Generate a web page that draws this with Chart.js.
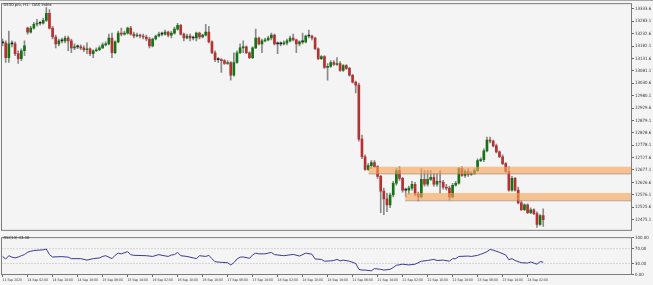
<!DOCTYPE html>
<html>
<head>
<meta charset="utf-8">
<script src="https://cdn.jsdelivr.net/npm/chart.js@4.4.1/dist/chart.umd.min.js"></script>
<style>
html, body { margin: 0; padding: 0; background: #f4f4f4; }
#wrap { position: relative; width: 653px; height: 285px; overflow: hidden; }
#price { position: absolute; left: 0; top: 0; }
#rsi { position: absolute; left: 0; top: 234px; }
</style>
</head>
<body>
<div id="wrap">
  <canvas id="price" width="653" height="234"></canvas>
  <canvas id="rsi" width="653" height="51"></canvas>
</div>
<script>
// DE30 H1 candles, 11 Sep 14:00 .. 24 Sep 07:00 (one entry per bar)
const open = [
  13195,13195,13135,13191,13191,13151,13131,13163,
  13255,13239,13255,13271,13275,13275,13287,13315,
  13255,13219,13191,13203,13203,13215,13203,13175,
  13179,13179,13175,13167,13171,13151,13163,13167,
  13175,13187,13191,13215,13155,13199,13235,13231,
  13235,13255,13231,13223,13227,13223,13219,13211,
  13183,13211,13223,13231,13231,13239,13227,13235,
  13251,13267,13231,13215,13223,13215,13215,13235,
  13219,13227,13239,13199,13155,13127,13127,13123,
  13111,13115,13063,13115,13155,13175,13179,13155,
  13135,13175,13215,13191,13203,13207,13215,13227,
  13191,13191,13191,13195,13203,13215,13207,13191,
  13199,13199,13223,13223,13215,13171,13131,13139,
  13095,13099,13115,13107,13111,13083,13103,13091,
  13063,13035,13023,12803,12731,12679,12695,12707,
  12691,12651,12591,12559,12535,12575,12623,12675,
  12643,12595,12595,12603,12619,12579,12567,12639,
  12619,12639,12647,12619,12631,12627,12607,12603,
  12567,12615,12623,12683,12655,12671,12659,12663,
  12675,12715,12719,12755,12799,12795,12775,12751,
  12731,12703,12671,12595,12643,12595,12543,12515,
  12535,12503,12515,12499,12455,12491
];
const high = [
  13211,13203,13243,13203,13199,13163,13171,13203,
  13259,13263,13279,13291,13283,13295,13339,13331,
  13263,13227,13211,13215,13223,13223,13211,13191,
  13187,13187,13183,13195,13175,13167,13175,13183,
  13195,13199,13231,13235,13203,13243,13255,13243,
  13259,13263,13239,13235,13231,13231,13227,13219,
  13215,13227,13239,13239,13247,13243,13243,13259,
  13275,13271,13235,13231,13231,13223,13239,13239,
  13231,13271,13263,13203,13163,13135,13131,13127,
  13123,13119,13155,13163,13191,13203,13183,13159,
  13179,13251,13219,13211,13215,13223,13235,13231,
  13199,13199,13203,13211,13223,13231,13211,13203,
  13235,13227,13247,13227,13219,13175,13143,13143,
  13111,13123,13123,13135,13119,13107,13107,13095,
  13067,13039,13031,12819,12739,12703,12715,12715,
  12695,12655,12603,12583,12583,12631,12683,12691,
  12647,12603,12611,12631,12627,12587,12683,12675,
  12675,12675,12663,12663,12675,12635,12619,12611,
  12623,12631,12687,12691,12679,12683,12671,12683,
  12723,12727,12763,12811,12811,12799,12783,12755,
  12739,12707,12691,12651,12647,12607,12551,12539,
  12539,12523,12519,12507,12495,12519
];
const low = [
  13183,13115,13115,13179,13143,13111,13123,13143,
  13231,13235,13251,13263,13267,13271,13283,13251,
  13211,13175,13183,13195,13195,13163,13155,13167,
  13171,13167,13159,13151,13143,13135,13159,13163,
  13171,13183,13187,13135,13151,13195,13223,13227,
  13231,13227,13215,13219,13215,13211,13203,13175,
  13179,13207,13219,13223,13227,13219,13215,13231,
  13247,13227,13203,13211,13203,13207,13203,13211,
  13215,13223,13195,13151,13119,13115,13075,13107,
  13107,13043,13059,13111,13151,13155,13151,13131,
  13131,13171,13187,13155,13199,13203,13207,13187,
  13151,13183,13187,13187,13199,13203,13155,13183,
  13191,13195,13215,13207,13167,13127,13127,13091,
  13043,13095,13103,13103,13079,13079,13087,13059,
  13031,12991,12795,12723,12675,12675,12683,12687,
  12643,12503,12495,12507,12523,12567,12615,12635,
  12587,12567,12579,12595,12571,12551,12563,12611,
  12611,12635,12611,12611,12583,12599,12595,12555,
  12563,12611,12619,12651,12647,12651,12655,12659,
  12671,12711,12711,12751,12787,12771,12747,12727,
  12699,12667,12591,12591,12591,12539,12511,12511,
  12499,12499,12495,12443,12451,12447
];
const close = [
  13195,13135,13191,13191,13151,13131,13163,13183,
  13239,13255,13271,13275,13275,13287,13315,13255,
  13219,13191,13203,13203,13215,13203,13175,13179,
  13179,13175,13167,13171,13151,13163,13167,13175,
  13187,13191,13215,13155,13199,13235,13231,13235,
  13255,13231,13223,13227,13223,13219,13211,13183,
  13211,13223,13231,13231,13239,13227,13235,13251,
  13267,13231,13215,13223,13215,13215,13235,13219,
  13227,13239,13199,13155,13127,13127,13123,13111,
  13115,13063,13115,13155,13175,13179,13155,13135,
  13175,13215,13191,13203,13207,13215,13227,13191,
  13191,13191,13195,13203,13215,13207,13191,13199,
  13199,13223,13223,13215,13171,13131,13139,13095,
  13099,13115,13107,13111,13083,13103,13091,13063,
  13035,13023,12803,12731,12679,12695,12707,12691,
  12651,12591,12559,12535,12575,12623,12675,12643,
  12595,12595,12603,12619,12579,12567,12639,12619,
  12639,12647,12619,12631,12627,12607,12603,12567,
  12615,12623,12683,12655,12671,12659,12663,12675,
  12715,12719,12755,12799,12795,12775,12751,12731,
  12703,12671,12595,12643,12595,12543,12515,12535,
  12503,12515,12499,12455,12491,12475
];

// RSI(14): bar index -> value
const rsiIdx = [0,1,2,3,4,5,6,7,8,9,10,13,14,15,16,19,21,22,25,27,29,31,32,33,35,36,37,38,40,41,42,46,48,50,51,53,54,55,56,57,59,61,62,63,65,66,67,68,70,72,73,74,75,76,77,79,80,81,82,84,86,87,90,93,95,97,99,100,102,103,105,106,107,108,109,111,113,114,115,116,118,119,121,122,124,125,126,128,130,132,134,136,138,139,141,143,144,145,146,149,150,152,153,154,155,156,157,159,161,162,163,164,166,168,169,171,172,173];
const rsiVal = [49,42,51,47,45,47.5,51,54,60.5,63,65,67,69,54,47.5,48.5,47,43,43,39,43,45,49,51,43,52,58,56,62,54,52,51,49,54,52,49,53,54,60,51,49,45,43,51,49,52,43,34.5,33,32,26,32,42,47,47.5,44,53,58,56,56,60,54,51,54.5,50,58,55,42,41,36,37,38,41,37,39,36,30,14,12,12,10,16,14,12,14,19,25,28,26,28,36,38,41,38,39,36,43,43,49,50,49,52,55,58,62,68,66,60,53,40,43,38,32,31,34,28,35,33.4];
const rsiLevels = [70, 30];
const rsiTicks = [100, 70, 30, 0];

// supply / demand zones (start bar, top, bottom)
const zoneFrom = [117.1, 128.8];
const zoneTop = [12690, 12583];
const zoneBottom = [12661, 12552];

const priceTicks = [13333.6, 13283.1, 13232.6, 13182.1, 13131.6, 13081.1, 13030.6, 12980.1, 12929.6,
  12879.1, 12828.6, 12778.1, 12727.6, 12677.1, 12626.6, 12576.1, 12525.6, 12475.1];
const xTickIdx = [0,8,16,24,32,40,48,56,64,72,80,88,96,104,112,120,128,136,144,152,160,168];
const xLabels = ['11 Sep 2020','14 Sep 02:00','14 Sep 10:00','14 Sep 18:00','15 Sep 06:00','15 Sep 14:00',
  '16 Sep 02:00','16 Sep 10:00','16 Sep 18:00','17 Sep 06:00','17 Sep 14:00','18 Sep 02:00','18 Sep 10:00',
  '18 Sep 18:00','21 Sep 06:00','21 Sep 14:00','22 Sep 02:00','22 Sep 10:00','22 Sep 18:00','23 Sep 06:00',
  '23 Sep 14:00','24 Sep 02:00'];

const xMin = -0.35, xMax = 201.25;
const yMin = 12431, yMax = 13355;

const tinyFamily = '"Liberation Sans Narrow", "DejaVu Sans Condensed", "Liberation Sans", sans-serif';
const smallFont = { family: tinyFamily, size: 4.4 };
const dateFont = { family: tinyFamily, size: 3.4 };
const idx = close.map((c, i) => i);
const bodyColor = idx.map(i => close[i] > open[i] ? '#137413' : (close[i] < open[i] ? '#b83030' : '#222222'));

// frame around each pane, like the terminal draws it
const framePlugin = {
    id: 'frame',
    afterDraw(chart) {
        const a = chart.chartArea, ctx = chart.ctx;
        ctx.save();
        ctx.strokeStyle = '#7c7c7c';
        ctx.lineWidth = 1;
        ctx.strokeRect(a.left, a.top, a.right - a.left, a.bottom - a.top);
        ctx.restore();
    }
};

function captionPlugin(text, y, topLine) {
    return {
        id: 'caption',
        afterDraw(chart) {
            const ctx = chart.ctx;
            ctx.save();
            if (topLine) {
                ctx.fillStyle = '#a8a8a8';
                ctx.fillRect(0, 0, chart.width, 1);
            }
            ctx.font = '4.2px ' + tinyFamily;
            ctx.fillStyle = '#222';
            ctx.textBaseline = 'middle';
            ctx.fillText(text, 3.5, y);
            ctx.restore();
        }
    };
}

const zoneSets = [];
zoneFrom.forEach((from, z) => {
    zoneSets.push({
        type: 'line',
        data: [{ x: from, y: zoneTop[z] }, { x: xMax, y: zoneTop[z] }],
        borderWidth: 0, pointRadius: 0, fill: false, order: 0
    });
    zoneSets.push({
        type: 'line',
        data: [{ x: from, y: zoneBottom[z] }, { x: xMax, y: zoneBottom[z] }],
        borderColor: 'rgba(120,120,120,0.35)', borderWidth: 1.5,
        backgroundColor: 'rgba(248,163,86,0.62)', fill: '-1',
        pointRadius: 0, order: 0
    });
});

new Chart(document.getElementById('price'), {
    type: 'bar',
    data: {
        datasets: zoneSets.concat([
            {
                type: 'bar',
                data: idx.map(i => ({ x: i, y: [low[i], high[i]] })),
                backgroundColor: '#8a8a8a',
                barThickness: 1, grouped: false, order: 3
            },
            {
                type: 'bar',
                data: idx.map(i => ({ x: i, y: [open[i], close[i]] })),
                backgroundColor: bodyColor,
                barThickness: 2, minBarLength: 1, grouped: false, order: 2
            }
        ])
    },
    options: {
        responsive: false,
        animation: false,
        events: [],
        layout: { padding: { left: 1.5, top: 1.5, right: 0, bottom: 0.5 } },
        plugins: { legend: { display: false }, tooltip: { enabled: false } },
        scales: {
            x: { type: 'linear', min: xMin, max: xMax, offset: false, display: false },
            y: {
                position: 'right', min: yMin, max: yMax,
                afterFit(s) { s.width = 21.5; },
                afterBuildTicks(s) { s.ticks = priceTicks.map(v => ({ value: v })); },
                ticks: { callback: v => v.toFixed(1), font: smallFont, color: '#333', padding: 1, autoSkip: false },
                grid: { drawOnChartArea: false, tickLength: 2.5, tickColor: '#666' },
                border: { display: false }
            }
        }
    },
    plugins: [framePlugin, captionPlugin('DE30.pro, H1:  DAX Index', 5, true)]
});

new Chart(document.getElementById('rsi'), {
    type: 'line',
    data: {
        datasets: [
            {
                data: rsiIdx.map((x, k) => ({ x: x, y: rsiVal[k] })),
                borderColor: '#3b3b98', borderWidth: 1, pointRadius: 0, tension: 0, order: 0
            }
        ].concat(rsiLevels.map(l => ({
            data: [{ x: xMin, y: l }, { x: xMax, y: l }],
            borderColor: '#b4b4b4', borderWidth: 1, borderDash: [1, 2], pointRadius: 0, order: 1
        })))
    },
    options: {
        responsive: false,
        animation: false,
        events: [],
        layout: { padding: { left: 1.5, top: 1.5, right: 0, bottom: 0 } },
        plugins: { legend: { display: false }, tooltip: { enabled: false } },
        scales: {
            x: {
                type: 'linear', min: xMin, max: xMax, offset: false,
                afterFit(s) { s.height = 10.5; },
                afterBuildTicks(s) { s.ticks = xTickIdx.map(v => ({ value: v })); },
                ticks: {
                    callback: (v, i) => xLabels[i], align: 'start', maxRotation: 0, minRotation: 0,
                    autoSkip: false, font: dateFont, color: '#333', padding: 1.5
                },
                grid: { drawOnChartArea: false, tickLength: 2.5, tickColor: '#666' },
                border: { display: false }
            },
            y: {
                position: 'right', min: 0, max: 100,
                afterFit(s) { s.width = 21.5; },
                afterBuildTicks(s) { s.ticks = rsiTicks.map(v => ({ value: v })); },
                ticks: { callback: v => v.toFixed(2), font: smallFont, color: '#333', padding: 1, autoSkip: false },
                grid: { drawOnChartArea: false, tickLength: 2.5, tickColor: '#666' },
                border: { display: false }
            }
        }
    },
    plugins: [framePlugin, captionPlugin('RSI(14) 33.40', 4, false)]
});
</script>
</body>
</html>
